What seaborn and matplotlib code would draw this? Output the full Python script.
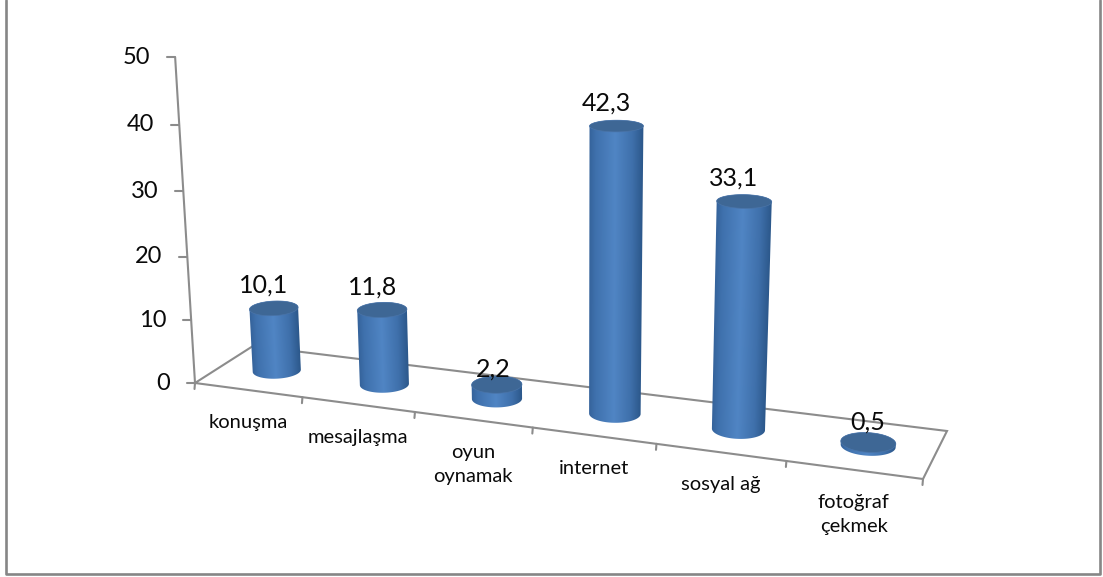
import numpy as np
import matplotlib
matplotlib.use("Agg")
import matplotlib.pyplot as plt
from matplotlib.colors import LinearSegmentedColormap
from matplotlib.patches import Polygon
import seaborn as sns

# Chart values
CATEGORIES = ["konuşma", "mesajlaşma", "oyun\noynamak", "internet", "sosyal ağ", "fotoğraf\nçekmek"]
VALUES = [10.1, 11.8, 2.2, 42.3, 33.1, 0.5]
VALUE_LABELS = ["10,1", "11,8", "2,2", "42,3", "33,1", "0,5"]
AXIS_TICKS = [0, 10, 20, 30, 40, 50]

# Camera of the perspective floor: corners of the floor in pixels
FLOOR_UV = [(-0.5, 0), (5.5, 0), (5.5, 1), (-0.5, 1)]
FLOOR_PX = [(195, 383), (923, 479), (947, 431), (253, 346)]
VANISH = (580.0, 6700.0)
HEIGHT_W = -0.000981
BAR_DEPTH = 0.5
BAR_WIDTH = 0.405
DEPTH_RADIUS = 0.2

LINE = "#8c8c8c"
TOP_COLOR = "#3e6795"
TEXT = "#0a0a0a"
shade = LinearSegmentedColormap.from_list(
    "cyl", [(0, "#35639b"), (0.12, "#3f71ad"), (0.48, "#5085c4"), (0.8, "#3f70ab"), (1, "#2c588b")]
)


def floor_matrix():
    rows, rhs = [], []
    for (u, v), (x, y) in zip(FLOOR_UV, FLOOR_PX):
        rows.append([u, v, 1, 0, 0, 0, -u * x, -v * x]); rhs.append(x)
        rows.append([0, 0, 0, u, v, 1, -u * y, -v * y]); rhs.append(y)
    h = np.linalg.solve(np.array(rows, float), np.array(rhs, float))
    m = np.append(h, 1).reshape(3, 3)
    return m / (m[2] @ np.array([FLOOR_UV[0][0], FLOOR_UV[0][1], 1.0]))


H = floor_matrix()
UP = HEIGHT_W * np.array([VANISH[0], VANISH[1], 1.0])


def project(i, d, v):
    """Map category position, floor depth and value to canvas pixels."""
    i, d, v = np.atleast_1d(i, d, v)
    i, d, v = np.broadcast_arrays(i.astype(float), d.astype(float), v.astype(float))
    p = H @ np.stack([i, d, np.ones_like(i)]) + UP[:, None] * v
    x, y = p[0] / p[2], p[1] / p[2]
    return (x, y) if x.size > 1 else (x[0], y[0])


def convex_hull(points):
    """Monotone-chain hull of 2D points."""
    pts = sorted(set(map(tuple, np.round(points, 3))))

    def half(seq):
        out = []
        for p in seq:
            while len(out) > 1 and ((out[-1][0] - out[-2][0]) * (p[1] - out[-2][1])
                                    - (out[-1][1] - out[-2][1]) * (p[0] - out[-2][0])) <= 0:
                out.pop()
            out.append(p)
        return out[:-1]

    return np.array(half(pts) + half(pts[::-1]))


sns.set_theme(style="white")
plt.rcParams["font.family"] = ["Lato", "DejaVu Sans"]

fig = plt.figure(figsize=(11.03, 5.77), dpi=100, facecolor="white")

# seaborn lays out the bars; their centres, widths and heights feed the projection
ax_bars = fig.add_axes([0, 0, 1, 1])
sns.barplot(x=CATEGORIES, y=VALUES, width=BAR_WIDTH, ax=ax_bars)
bars = list(ax_bars.patches)
for b in bars:
    b.set_visible(False)
ax_bars.set_axis_off()

ax = fig.add_axes([0, 0, 1, 1])
ax.set_xlim(0, 1103)
ax.set_ylim(577, 0)
ax.set_axis_off()
ax.patch.set_alpha(0)

# Outer frame
ax.plot([6, 6, 1100, 1100], [0, 574, 574, 0], color="#868686", lw=1.9, zorder=1)

# Floor outline
left, right = FLOOR_UV[0][0], FLOOR_UV[1][0]
corners = [project(left, 0, 0), project(left, 1, 0), project(right, 1, 0), project(right, 0, 0), project(left, 0, 0)]
ax.plot(*zip(*corners), color=LINE, lw=1.5, zorder=2, solid_joinstyle="miter")

# Category ticks along the front edge, category labels below them
for k in range(len(CATEGORIES) + 1):
    x, y = project(left + k, 0, 0)
    ax.plot([x, x - 0.5], [y, y + 6], color=LINE, lw=1.5, zorder=2)
for k, name in enumerate(CATEGORIES):
    x, y = project(k, 0, 0)
    ax.text(x, y + 24, name, ha="center", va="top", fontsize=14.5, color=TEXT, linespacing=1.5)

# Value axis along the front-left corner
top_x, top_y = project(left, 0, max(AXIS_TICKS))
base_x, base_y = project(left, 0, 0)
ax.plot([top_x, base_x], [top_y, base_y], color=LINE, lw=1.5, zorder=2)
for t in AXIS_TICKS:
    x, y = project(left, 0, t)
    ax.plot([x - 8, x], [y, y], color=LINE, lw=1.5, zorder=2)
    ax.text(x - 25, y, str(t), ha="right", va="center", fontsize=17, color=TEXT)

# Cylinders
theta = np.linspace(0, 2 * np.pi, 361)[:-1]
nudges = [(0, 0), (0, 0), (6, 8), (0, 0), (-1, 0), (9, 3)]
for bar, label, nudge in zip(bars, VALUE_LABELS, nudges):
    centre = bar.get_x() + bar.get_width() / 2
    radius = bar.get_width() / 2
    value = bar.get_height()
    ci = centre + radius * np.cos(theta)
    di = BAR_DEPTH + DEPTH_RADIUS * np.sin(theta)
    bx, by = project(ci, di, np.zeros_like(theta))
    tx, ty = project(ci, di, np.full_like(theta, value))

    # wall: a shade across the width that leans with the cylinder, clipped to its outline
    outline = convex_hull(np.column_stack([np.r_[bx, tx], np.r_[by, ty]]))
    x0, x1 = np.floor(outline[:, 0].min()) - 1, np.ceil(outline[:, 0].max()) + 1
    y0, y1 = np.floor(outline[:, 1].min()) - 1, np.ceil(outline[:, 1].max()) + 1
    gx, gy = np.meshgrid(np.arange(x0, x1, 0.5) + 0.25, np.arange(y0, y1, 0.5) + 0.25)
    base_cy, top_cy = by.mean(), ty.mean()
    f = np.clip((gy - base_cy) / (top_cy - base_cy), -0.5, 1.5)
    edge_l = bx.min() + f * (tx.min() - bx.min())
    edge_r = bx.max() + f * (tx.max() - bx.max())
    wall = ax.imshow(shade(np.clip((gx - edge_l) / (edge_r - edge_l), 0, 1)), extent=(x0, x1, y1, y0),
                     origin="upper", aspect="auto", interpolation="bilinear", zorder=3)
    hull = Polygon(outline, closed=True, facecolor="none", edgecolor="none", transform=ax.transData)
    ax.add_patch(hull)
    wall.set_clip_path(hull)

    ax.add_patch(Polygon(np.column_stack([tx, ty]), closed=True, facecolor=TOP_COLOR,
                         edgecolor="#4a74a8", lw=0.5, zorder=4))

    cx, cy = project(centre, BAR_DEPTH, value)
    ax.text(cx - 10 + nudge[0], cy - 23 + nudge[1], label, ha="center", va="center",
            fontsize=18, color=TEXT, zorder=5)

ax.set_xlim(0, 1103)
ax.set_ylim(577, 0)
fig.savefig("out.png", dpi=100, facecolor="white")
